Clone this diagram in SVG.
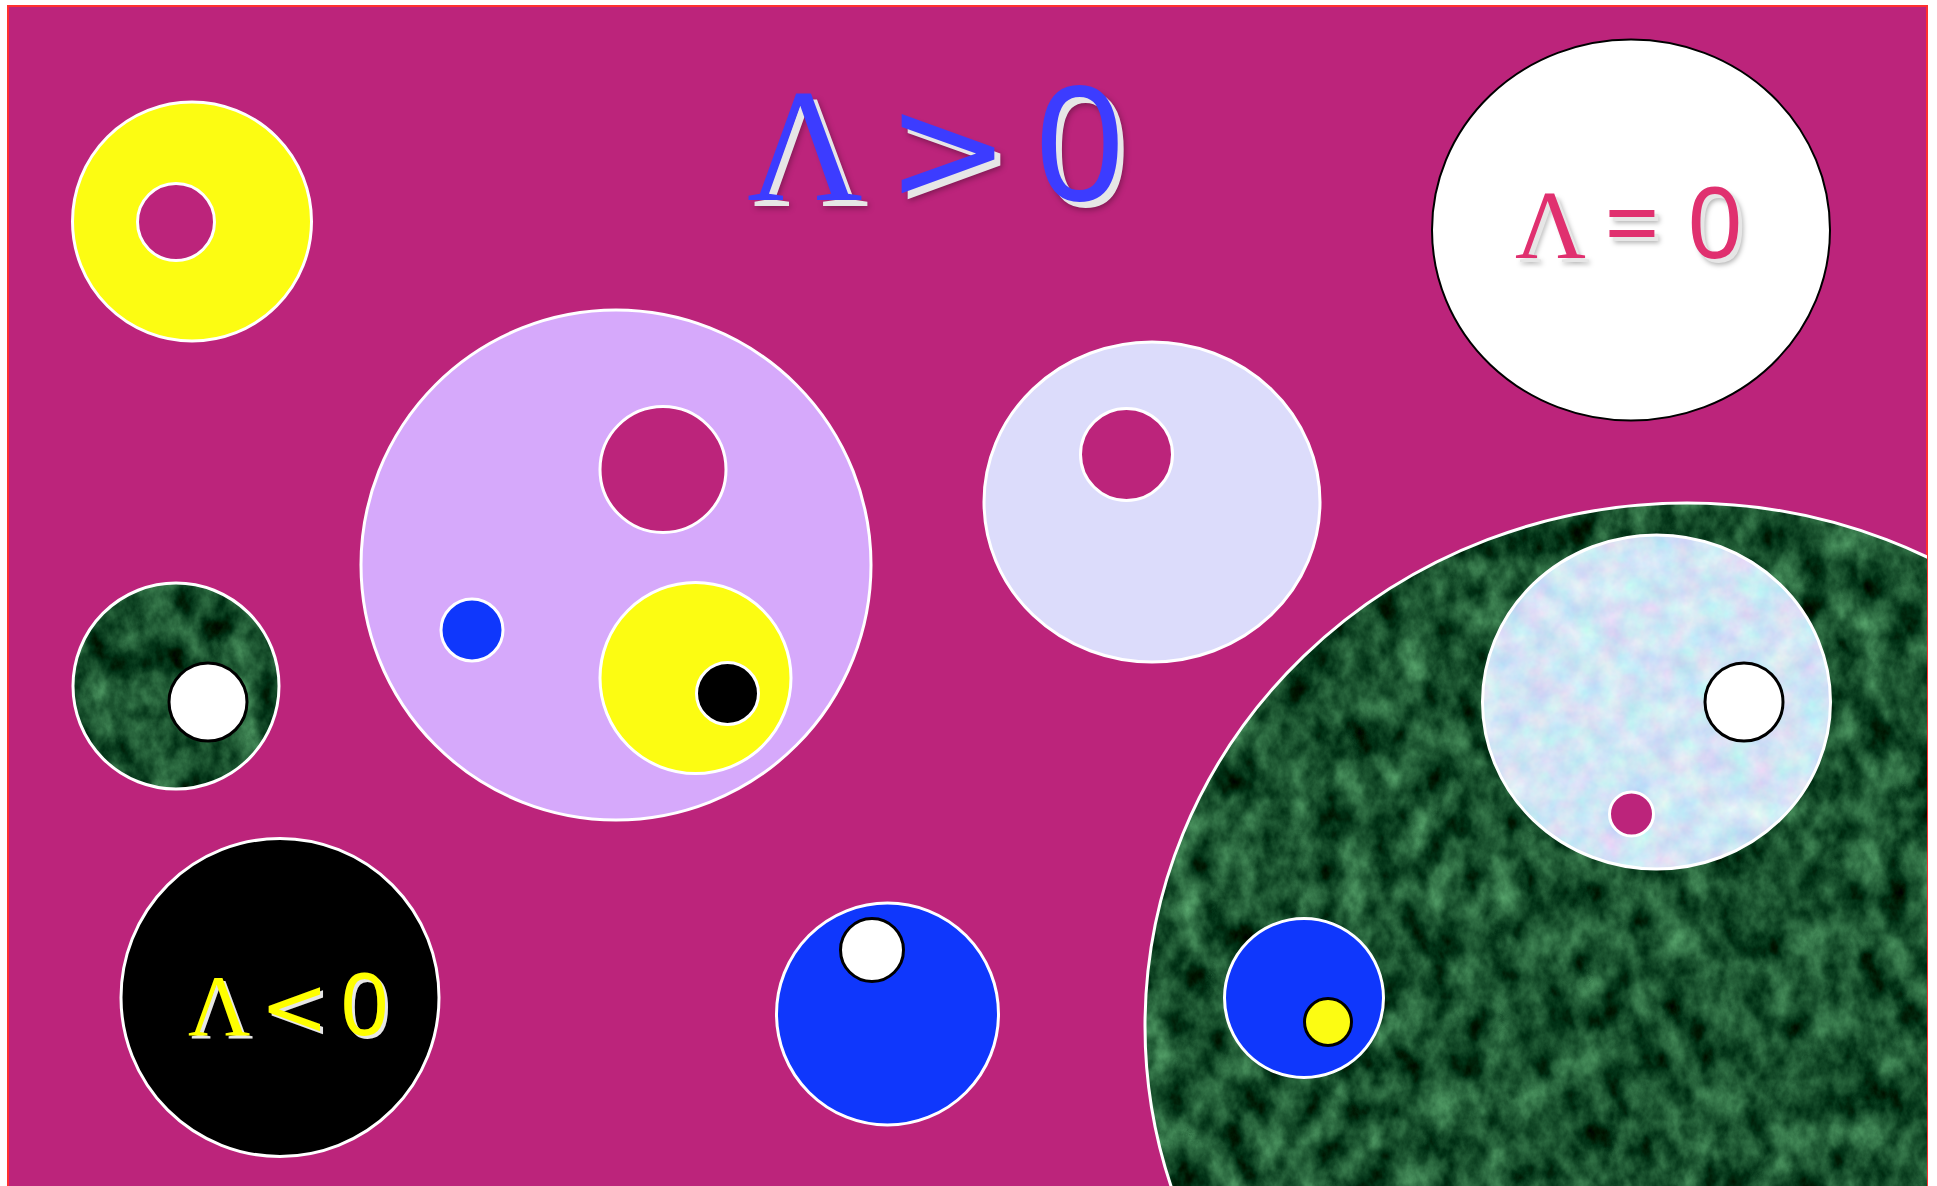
<svg xmlns="http://www.w3.org/2000/svg" width="1937" height="1186" viewBox="0 0 1937 1186">
<style>
.ws{stroke:#ffffff;stroke-width:3}
.bs{stroke:#000000;stroke-width:3}
.bg{fill:#bc247b}
.yel{fill:#fcfc12}
.blu{fill:#0f37fc}
.wht{fill:#ffffff}
.blk{fill:#000000}
.serif{font-family:"Liberation Serif","DejaVu Serif",serif}
.sans{font-family:"Noto Sans","DejaVu Sans",sans-serif}
.dj{font-family:"DejaVu Sans","Noto Sans",sans-serif}
</style>
<defs>
<clipPath id="frame"><rect x="8" y="6" width="1919" height="1190"/></clipPath>
<filter id="marble" x="0" y="0" width="1" height="1" color-interpolation-filters="sRGB">
<feTurbulence type="fractalNoise" baseFrequency="0.035 0.025" numOctaves="5" seed="7" result="n"/>
<feColorMatrix in="n" type="matrix" values="0.6 0 0 0 -0.2  0.8 0 0 0 -0.08  0.6 0 0 0 -0.12  0 0 0 0 1" result="c"/>
<feComposite in="c" in2="SourceAlpha" operator="in"/>
</filter>
<filter id="pale" x="0" y="0" width="1" height="1" color-interpolation-filters="sRGB">
<feTurbulence type="fractalNoise" baseFrequency="0.04" numOctaves="4" seed="2" result="n"/>
<feColorMatrix in="n" type="matrix" values="0.28 0 0 0 0.68  0 0.2 0 0 0.8  0 0 0.06 0 0.93  0 0 0 0 1" result="c"/>
<feComposite in="c" in2="SourceAlpha" operator="in"/>
</filter>
<filter id="ts1" x="-10%" y="-10%" width="130%" height="130%" color-interpolation-filters="sRGB">
<feOffset in="SourceAlpha" dx="6" dy="6" result="o"/>
<feFlood flood-color="#e6e6e6"/>
<feComposite in2="o" operator="in" result="lg"/>
<feGaussianBlur in="o" stdDeviation="3" result="b"/>
<feOffset in="b" dx="1" dy="2" result="b2"/>
<feFlood flood-color="#000000" flood-opacity="0.35"/>
<feComposite in2="b2" operator="in" result="ds"/>
<feMerge><feMergeNode in="ds"/><feMergeNode in="lg"/><feMergeNode in="SourceGraphic"/></feMerge>
</filter>
<filter id="ts2" x="-10%" y="-10%" width="130%" height="130%" color-interpolation-filters="sRGB">
<feOffset in="SourceAlpha" dx="4" dy="4" result="o"/>
<feFlood flood-color="#e6e6e6"/>
<feComposite in2="o" operator="in" result="lg"/>
<feGaussianBlur in="o" stdDeviation="2.5" result="b"/>
<feOffset in="b" dx="1" dy="2" result="b2"/>
<feFlood flood-color="#000000" flood-opacity="0.3"/>
<feComposite in2="b2" operator="in" result="ds"/>
<feMerge><feMergeNode in="ds"/><feMergeNode in="lg"/><feMergeNode in="SourceGraphic"/></feMerge>
</filter>
<filter id="ts3" x="-10%" y="-10%" width="130%" height="130%" color-interpolation-filters="sRGB">
<feOffset in="SourceAlpha" dx="3" dy="3" result="o"/>
<feFlood flood-color="#e6e6e6"/>
<feComposite in2="o" operator="in" result="lg"/>
<feMerge><feMergeNode in="lg"/><feMergeNode in="SourceGraphic"/></feMerge>
</filter>
</defs>

<rect id="background" x="8" y="6" width="1919" height="1190" class="bg" stroke="#ff3030" stroke-width="2"/>

<g clip-path="url(#frame)">
<g id="title-positive">
<text y="200" font-size="160" fill="#3c3cff" filter="url(#ts1)"><tspan class="serif" x="747">Λ</tspan><tspan class="dj" x="886" font-size="148">&gt;</tspan><tspan class="sans" x="1034">0</tspan></text>
</g>

<g id="yellow-donut">
<circle cx="192" cy="221.5" r="119.5" class="yel ws"/>
<circle cx="176" cy="222" r="38.5" class="bg ws"/>
</g>

<g id="white-circle-zero">
<ellipse cx="1631" cy="230" rx="199" ry="190.5" class="wht" stroke="#000" stroke-width="2"/>
<text y="258" font-size="98" fill="#e0306f" filter="url(#ts2)"><tspan class="serif" x="1515">Λ</tspan><tspan class="sans" x="1604">=</tspan><tspan class="sans" x="1687">0</tspan></text>
</g>

<g id="lavender-circle">
<circle cx="616" cy="565" r="255" fill="#d6a9fb" class="ws"/>
<circle cx="663" cy="469.5" r="63" class="bg ws"/>
<circle cx="472" cy="630" r="31" class="blu ws"/>
<circle cx="695.5" cy="678" r="95.5" class="yel ws"/>
<circle cx="727.5" cy="693.5" r="31" class="blk ws"/>
</g>

<g id="pale-ellipse">
<ellipse cx="1152" cy="502" rx="168" ry="160" fill="#dcdcfb" class="ws"/>
<circle cx="1126.5" cy="454.5" r="46" class="bg ws"/>
</g>

<g id="green-small">
<circle cx="176" cy="686" r="103" fill="#1c5a3a"/>
<circle cx="176" cy="686" r="103" fill="#1c5a3a" filter="url(#marble)"/>
<circle cx="176" cy="686" r="103" fill="none" class="ws"/>
<circle cx="208" cy="702" r="39" class="wht bs" stroke-width="2.5"/>
</g>

<g id="black-circle-negative">
<circle cx="280" cy="997.5" r="159" class="blk ws"/>
<text y="1035" font-size="86" fill="#ffff00" filter="url(#ts3)"><tspan class="serif" x="188">Λ</tspan><tspan class="dj" x="260" font-size="82">&lt;</tspan><tspan class="sans" x="340">0</tspan></text>
</g>

<g id="blue-circle">
<circle cx="887.5" cy="1014" r="111" class="blu ws"/>
<circle cx="872" cy="950" r="31.5" class="wht bs" stroke-width="2.5"/>
</g>

<g id="green-big">
<ellipse cx="1687" cy="1026" rx="542" ry="523" fill="#1c5a3a"/>
<ellipse cx="1687" cy="1026" rx="542" ry="523" fill="#1c5a3a" filter="url(#marble)"/>
<ellipse cx="1687" cy="1026" rx="542" ry="523" fill="none" class="ws"/>
<g id="textured-ellipse">
<ellipse cx="1656.5" cy="702" rx="174" ry="167" fill="#d4e4f8"/>
<ellipse cx="1656.5" cy="702" rx="174" ry="167" fill="#d4e4f8" filter="url(#pale)"/>
<ellipse cx="1656.5" cy="702" rx="174" ry="167" fill="none" class="ws"/>
<circle cx="1744" cy="702" r="39" class="wht bs" stroke-width="2.5"/>
<circle cx="1631.5" cy="814" r="22" class="bg ws"/>
</g>
<g id="blue-in-green">
<circle cx="1304" cy="998" r="79.5" class="blu ws"/>
<circle cx="1328" cy="1022" r="23.5" class="yel bs" stroke-width="2.5"/>
</g>
</g>
</g>
<g id="connectors"/>
</svg>
